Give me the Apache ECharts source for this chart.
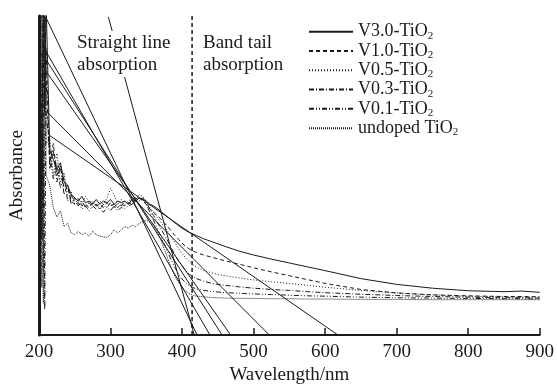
<!DOCTYPE html>
<html>
<head>
<meta charset="utf-8">
<script src="https://cdn.jsdelivr.net/npm/echarts@6/dist/echarts.min.js"></script>
<style>
  html, body { margin: 0; padding: 0; background: #fff; }
  #chart { width: 557px; height: 390px; }
</style>
</head>
<body>
<div id="chart"></div>
<script>
// 波长 (nm)
const wl = [200, 202, 204, 206, 208, 210, 215, 220, 225, 230, 235, 240, 245, 250, 255, 260, 265, 270, 275, 280,
  285, 290, 295, 300, 305, 310, 315, 320, 325, 330, 335, 340, 345, 350, 355, 360, 365, 370, 375, 380,
  385, 390, 395, 400, 405, 410, 415, 420, 430, 440, 450, 460, 480, 500, 525, 550, 575, 600, 650, 700,
  750, 800, 850, 875, 900]

// 吸光度 (任意单位)
const v30 = [2, 108, 30, 108, 70, 104, 58, 55, 52, 54, 48, 47, 44, 43, 42, 43.5, 41.5, 42, 41, 42.5,
  41, 42, 41.5, 42.5, 41, 42, 41.5, 42, 41, 42.5, 42, 43, 42.5, 42, 41, 40.5, 39.7, 38.8, 37.9, 37,
  36.1, 35.2, 34.3, 33.5, 32.8, 32.2, 31.7, 31.2, 30.2, 29.4, 28.6, 27.8, 26.3, 25.1, 23.8, 22.6, 21.4, 20.2, 17.7, 15.9,
  14.7, 13.9, 13.6, 13.8, 13.4]
const v10 = [5, 106, 15, 95, 106, 80, 54, 60, 50, 53, 46, 47, 42, 41, 42.5, 40.5, 41, 40, 41.5, 40.5,
  41, 40, 41.5, 40.5, 41, 40, 41, 40.5, 41.5, 41, 42, 43, 42, 41, 39.5, 38.5, 37.5, 36.5, 35.2, 34,
  32.6, 31.2, 30, 28.8, 27.8, 27, 26.4, 25.9, 25.1, 24.5, 23.9, 23.3, 22.2, 21.1, 19.8, 18.6, 17.4, 16.2, 14.3, 13.2,
  12.6, 12.3, 12.1, 12.1, 12]
const v05 = [0, 100, 108, 20, 105, 60, 62, 50, 57, 48, 51, 44, 45, 42, 43, 41, 43.5, 41.5, 42, 40.5,
  42, 41, 43, 46, 44, 41, 42.5, 41, 42, 43, 42, 44, 43.5, 42, 40, 38.5, 37, 35.5, 34, 32.5,
  30.8, 29, 27.2, 25.6, 24.2, 23, 22, 21.3, 20.3, 19.6, 19, 18.6, 17.9, 17.3, 16.7, 16.2, 15.6, 15, 14, 13.2,
  12.6, 12.2, 12, 11.9, 11.9]
const v03 = [10, 104, 50, 108, 8, 90, 52, 58, 48, 53, 44, 47, 41, 43, 40.5, 42, 40, 41.5, 40, 41,
  39.5, 41, 40, 41.5, 40, 41.5, 40.5, 42, 41, 42.5, 43, 42, 43, 41.5, 39.5, 37.5, 35.5, 33.5, 31.5, 29.5,
  27.3, 25.2, 23.3, 21.6, 20.2, 19.1, 18.3, 17.7, 16.9, 16.3, 15.9, 15.6, 15.1, 14.7, 14.3, 14, 13.6, 13.3, 12.8, 12.4,
  12.1, 11.9, 11.7, 11.7, 11.6]
const v01 = [3, 100, 105, 40, 100, 70, 57, 49, 54, 46, 50, 42, 44, 41, 41.5, 39.5, 40.5, 39, 40.5, 39.5,
  40, 38.5, 40, 39, 40.5, 39, 40, 39.5, 40.5, 41, 42, 43, 42.5, 41, 38.5, 36, 33.5, 31, 28.5, 26,
  23.5, 21.2, 19.2, 17.6, 16.4, 15.5, 14.9, 14.5, 14, 13.7, 13.5, 13.3, 13.1, 12.9, 12.7, 12.5, 12.3, 12.2, 11.9, 11.7,
  11.6, 11.5, 11.4, 11.4, 11.3]
const v00 = [0, 95, 105, 10, 105, 50, 47, 40, 37, 39, 34, 35, 32, 31.5, 32.5, 31.5, 32, 31, 32.5, 31.5,
  31, 30.8, 30.6, 31.5, 33, 32, 33, 34, 33.5, 34.5, 34, 35, 35.5, 36, 35.5, 34.5, 32.5, 30, 27, 24,
  21, 18.5, 16.5, 15, 13.8, 13, 12.5, 12.2, 12, 11.8, 11.7, 11.6, 11.5, 11.5, 11.4, 11.4, 11.3, 11.3, 11.2, 11.2,
  11.1, 11.1, 11.1, 11.1, 11.1]

// 名称
const names = ['V3.0-TiO{s|2}', 'V1.0-TiO{s|2}', 'V0.5-TiO{s|2}', 'V0.3-TiO{s|2}', 'V0.1-TiO{s|2}', 'undoped TiO{s|2}']
const lineTypes = ['solid', [4, 3], [1, 2], [5, 2, 1, 2], [5, 2, 1, 2, 1, 2], [1, 1]]

// 切线 [起点, x轴交点]
const tangents = [
  [[210, 99.4], [421, 0]],
  [[211, 88.4], [439, 0]],
  [[211, 85.9], [456, 0]],
  [[211, 82.3], [468, 0]],
  [[211, 70.0], [522, 0]],
  [[214, 62.7], [618, 0]],
  [[297, 99.7], [417, 0]]
]
const edgeX = 414 // 分界线

const font = 'Liberation Serif'
const ink = '#1a1a1a'

const spectra = [v30, v10, v05, v03, v01, v00].map((vals, i) => ({
  name: names[i],
  type: 'line',
  showSymbol: false,
  symbol: 'none',
  clip: true,
  z: 3,
  lineStyle: { color: ink, width: 1, type: lineTypes[i] },
  itemStyle: { color: ink },
  data: wl.map((x, k) => [x, vals[k]])
}))

const tangentSeries = tangents.map(pts => ({
  type: 'line',
  symbol: 'none',
  silent: true,
  z: 2,
  lineStyle: { color: ink, width: 1 },
  data: pts
}))

const chart = echarts.init(document.getElementById('chart'), null, { renderer: 'canvas' })
chart.setOption({
  animation: false,
  backgroundColor: '#fff',
  grid: { left: 37, right: 14, top: 16, bottom: 47 },
  legend: {
    data: names,
    orient: 'vertical',
    left: 303,
    top: 17,
    itemWidth: 44,
    itemHeight: 12,
    itemGap: 0,
    // 只显示线型，不显示圆点
    itemStyle: { color: 'transparent', borderColor: 'transparent', borderWidth: 0, opacity: 0 },
    textStyle: {
      color: ink,
      fontFamily: font,
      fontSize: 18,
      rich: {
        s: { fontSize: 11, fontFamily: font, lineHeight: 11, verticalAlign: 'bottom', color: ink }
      },
      lineHeight: 19.3,
      verticalAlign: 'top'
    }
  },
  xAxis: {
    type: 'value',
    min: 200,
    max: 900,
    interval: 100,
    name: 'Wavelength/nm',
    nameLocation: 'middle',
    nameGap: 30,
    nameTextStyle: { color: ink, fontFamily: font, fontSize: 19 },
    axisLine: { lineStyle: { color: ink, width: 2 } },
    axisTick: { inside: true, length: 7, lineStyle: { color: ink, width: 1.5 } },
    axisLabel: { color: ink, fontFamily: font, fontSize: 19, margin: 7 },
    splitLine: { show: false }
  },
  yAxis: {
    type: 'value',
    min: 0,
    max: 100,
    name: 'Absorbance',
    nameLocation: 'middle',
    nameGap: 12,
    nameTextStyle: { color: ink, fontFamily: font, fontSize: 19 },
    axisLine: { show: true, lineStyle: { color: ink, width: 3 } },
    axisTick: { show: false },
    axisLabel: { show: false },
    splitLine: { show: false }
  },
  graphic: [
    {
      type: 'text',
      left: 75,
      top: 31,
      z: 10,
      style: {
        text: 'Straight line\nabsorption',
        fill: ink,
        font: '19px "Liberation Serif"',
        lineHeight: 22,
        backgroundColor: '#fff',
        padding: [1, 2]
      }
    },
    {
      type: 'text',
      left: 203,
      top: 31,
      z: 10,
      style: {
        text: 'Band tail\nabsorption',
        fill: ink,
        font: '19px "Liberation Serif"',
        lineHeight: 22,
        padding: [1, 0]
      }
    }
  ],
  series: [
    ...spectra,
    ...tangentSeries,
    {
      type: 'line',
      symbol: 'none',
      silent: true,
      lineStyle: { color: ink, width: 1.5, type: [4, 3] },
      data: [[edgeX, 0], [edgeX, 100]]
    }
  ]
})
</script>
</body>
</html>
